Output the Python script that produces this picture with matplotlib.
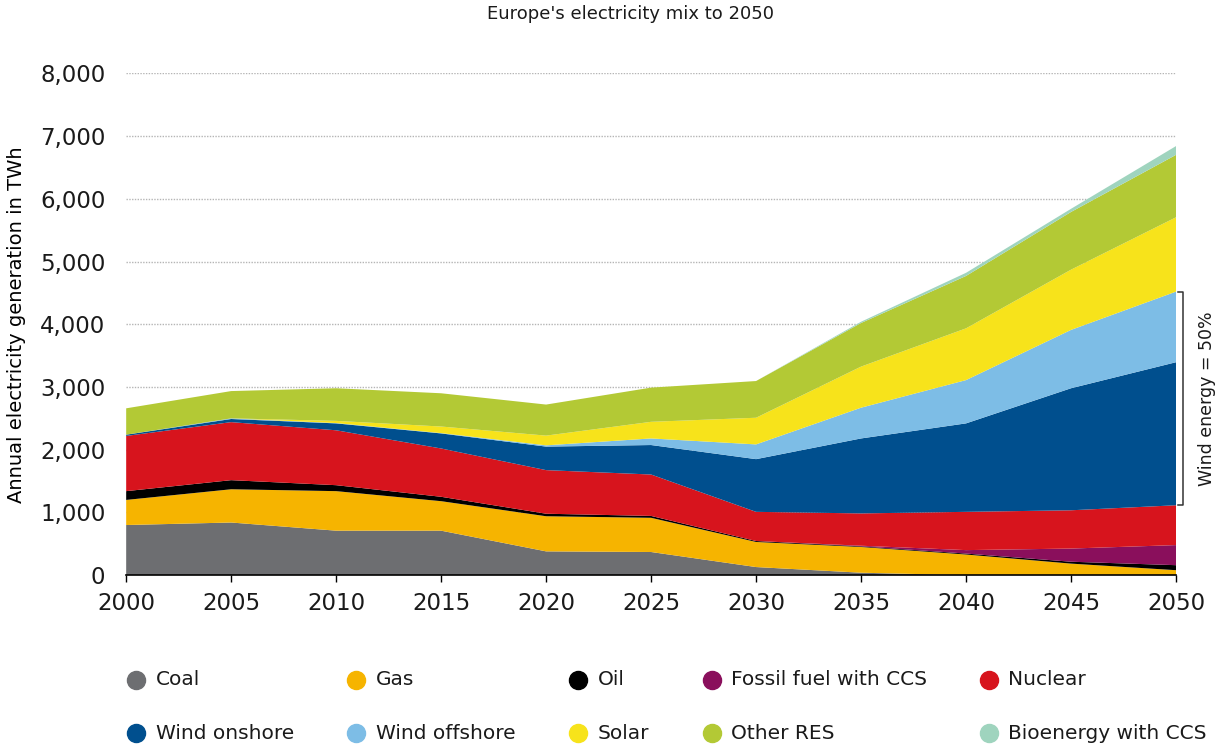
import numpy as np
import matplotlib
matplotlib.use("Agg")
import matplotlib.pyplot as plt
from matplotlib.lines import Line2D

# ======================
# data (TWh)
# ======================
years = [2000, 2005, 2010, 2015, 2020, 2025, 2030, 2035, 2040, 2045, 2050]

coal = [800, 840, 710, 710, 380, 370, 130, 40, 0, 0, 0]
gas = [400, 530, 630, 470, 560, 545, 400, 410, 330, 185, 80]
oil = [140, 145, 95, 70, 40, 30, 15, 10, 15, 30, 80]
fossil_ccs = [0, 0, 0, 0, 0, 0, 0, 10, 55, 210, 320]
nuclear = [880, 925, 875, 770, 695, 660, 465, 515, 610, 610, 635]
wind_onshore = [20, 50, 110, 240, 375, 470, 840, 1195, 1410, 1945, 2280]
wind_offshore = [0, 10, 5, 5, 20, 105, 235, 490, 690, 930, 1125]
solar = [0, 0, 35, 105, 155, 265, 425, 655, 825, 960, 1185]
other_res = [420, 435, 520, 530, 495, 545, 585, 695, 835, 920, 995]
bio_ccs = [0, 0, 0, 0, 0, 0, 0, 20, 50, 50, 140]

labels = ["Coal", "Gas", "Oil", "Fossil fuel with CCS", "Nuclear",
          "Wind onshore", "Wind offshore", "Solar", "Other RES", "Bioenergy with CCS"]
colors = ["#6d6e71", "#f6b400", "#000000", "#8a0f5c", "#d7141d",
          "#004f8e", "#7dbde6", "#f7e31b", "#b3c935", "#9fd4be"]

yticks = [0, 1000, 2000, 3000, 4000, 5000, 6000, 7000, 8000]
xticks = years

series = [coal, gas, oil, fossil_ccs, nuclear, wind_onshore,
          wind_offshore, solar, other_res, bio_ccs]

plt.rcParams['font.family'] = ['DejaVu Sans']

fig = plt.figure(figsize=(12.25, 7.48), dpi=100)
ax = fig.add_axes([0.103, 0.231, 0.857, 0.671])

ax.stackplot(years, *series, colors=colors, linewidth=0, zorder=2)

ax.set_xlim(2000, 2050)
ax.set_ylim(0, 8000)
ax.set_xticks(xticks)
ax.set_yticks(yticks)
ax.set_yticklabels([f"{v:,}" for v in yticks], fontsize=16.5, color="#1a1a1a")
ax.set_xticklabels([str(v) for v in xticks], fontsize=16.5, color="#1a1a1a")
ax.tick_params(axis="y", length=0, pad=15)
ax.tick_params(axis="x", length=5, width=1, direction="out", pad=7)

for v in yticks[1:]:
    ax.axhline(v, color="#b5b5b5", lw=1.0, ls=(0, (1, 1)), zorder=1)

for s in ["top", "right", "left"]:
    ax.spines[s].set_visible(False)
ax.spines["bottom"].set_color("black")
ax.spines["bottom"].set_linewidth(1.2)
ax.spines["bottom"].set_zorder(3)

ax.set_ylabel("Annual electricity generation in TWh", fontsize=14, labelpad=10)

fig.text(0.515, 0.981, "Europe's electricity mix to 2050", ha="center", va="center",
         fontsize=13, color="#1a1a1a")

# wind bracket at 2050
lo = sum(s[-1] for s in series[:5])
hi = lo + wind_onshore[-1] + wind_offshore[-1]
ax.plot([2050.1, 2050.35, 2050.35, 2050.1], [lo, lo, hi, hi],
        color="#333333", lw=1.1, clip_on=False)
ax.text(2051.5, (lo + hi) / 2, "Wind energy = 50%", rotation=90, ha="center",
        va="center", fontsize=12.5, color="#1a1a1a", clip_on=False)

# legend, two rows of five
col_x = [0.111, 0.291, 0.472, 0.581, 0.807]
row_y = [0.091, 0.020]
for i, (lab, col) in enumerate(zip(labels, colors)):
    r, c = divmod(i, 5)
    fig.add_artist(Line2D([col_x[c]], [row_y[r]], marker="o", markersize=13,
                          color=col, linestyle="none", transform=fig.transFigure))
    fig.text(col_x[c] + 0.016, row_y[r], lab, ha="left", va="center",
             fontsize=14.5, color="#1a1a1a")

plt.savefig("out.png", dpi=100)
